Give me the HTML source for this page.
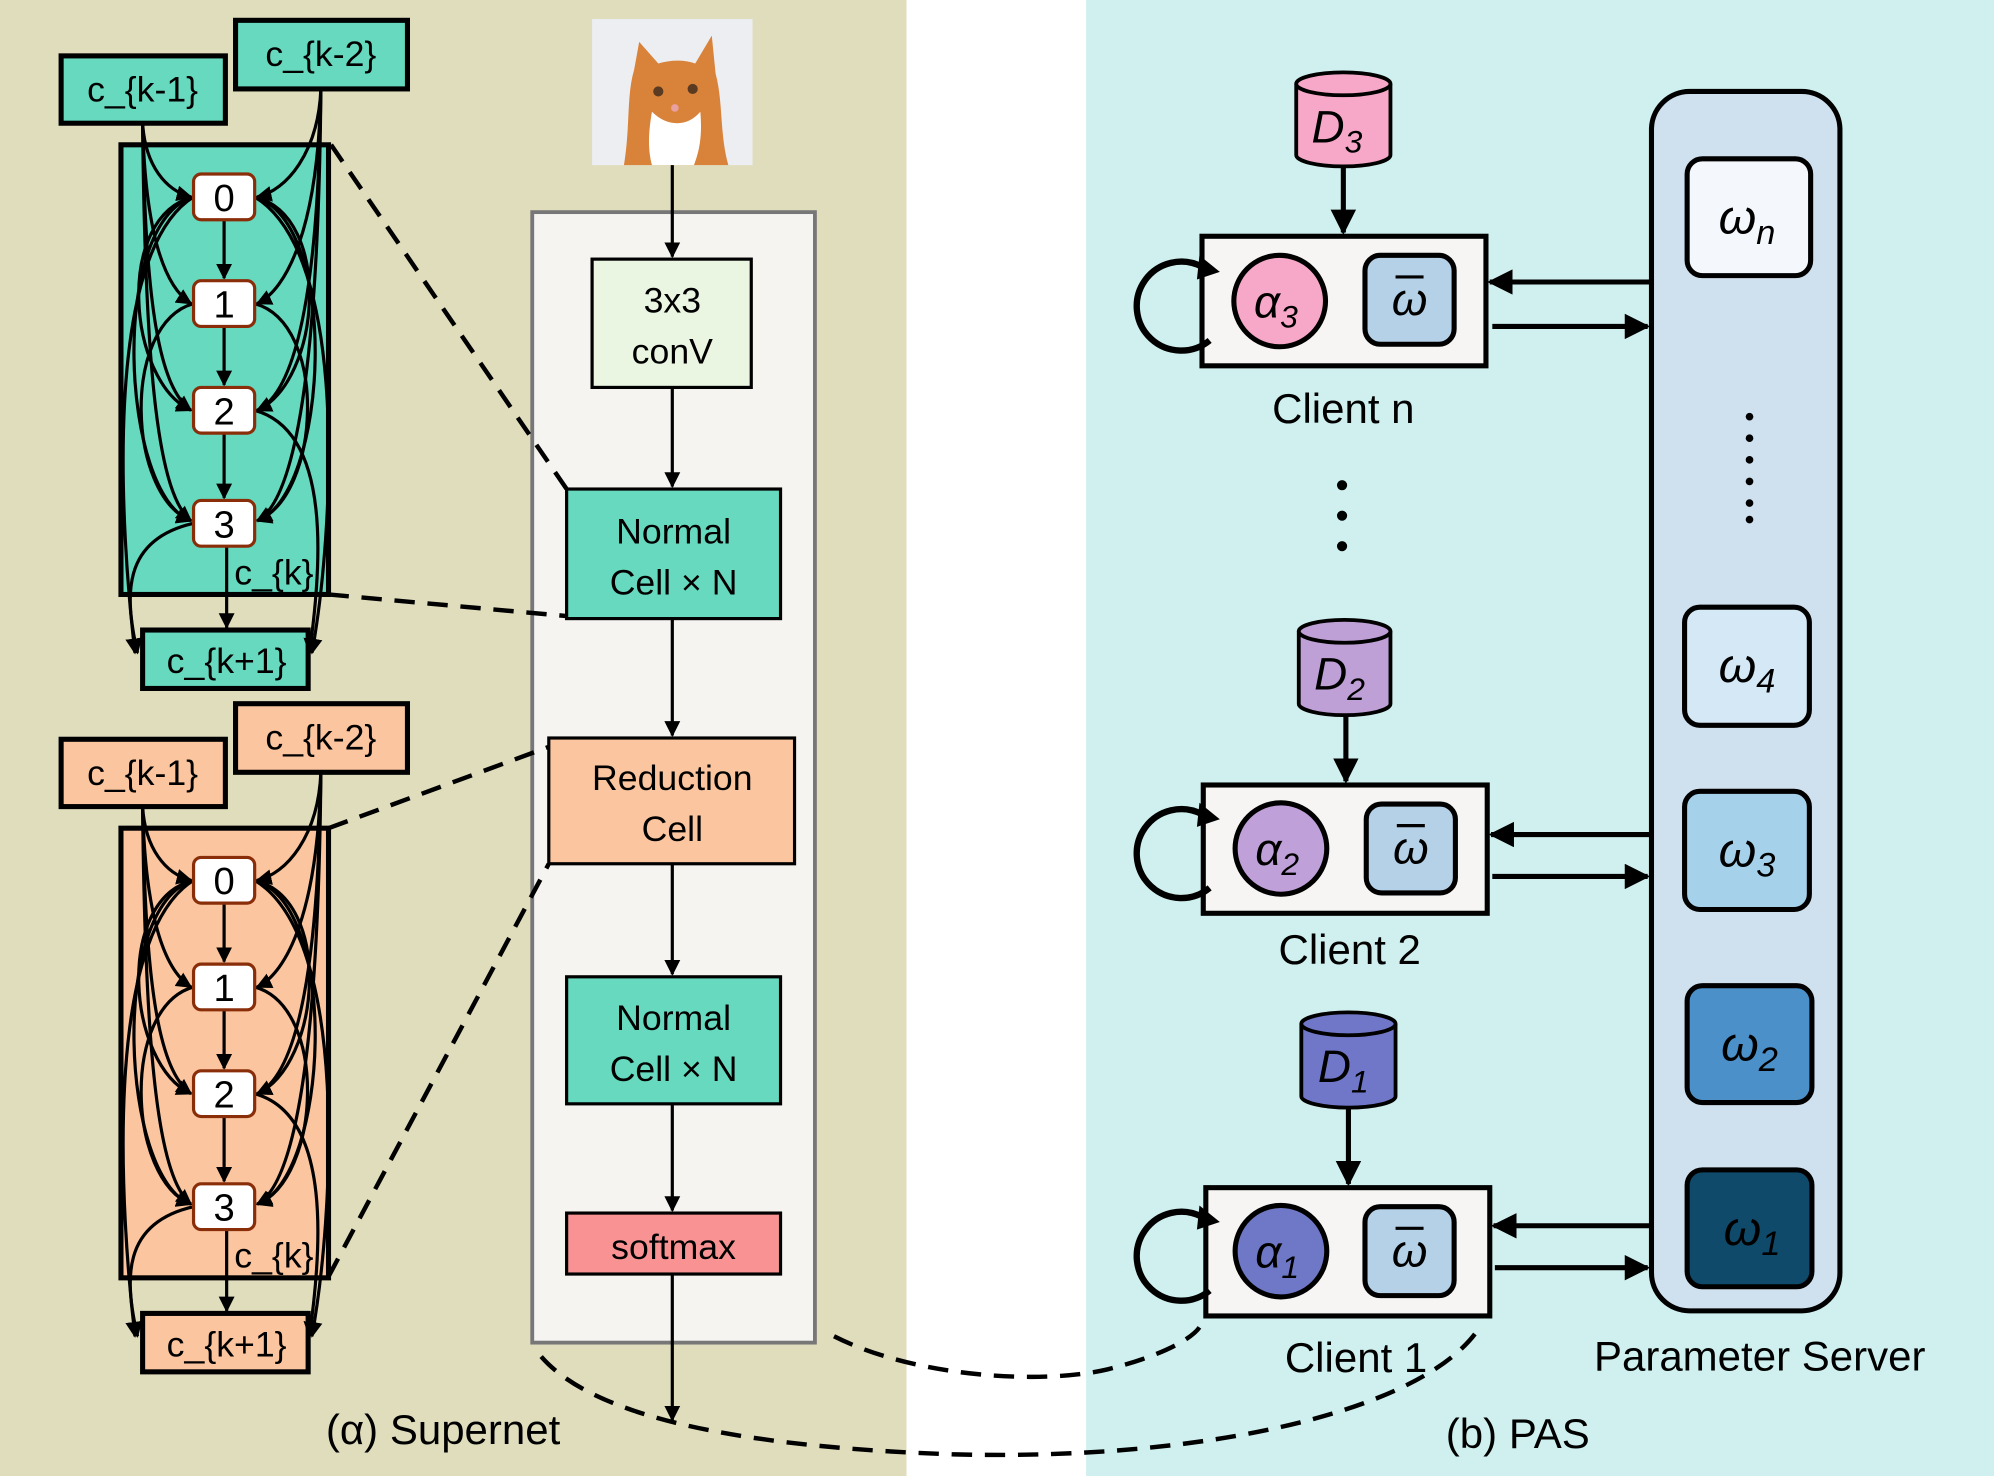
<!DOCTYPE html>
<html><head><meta charset="utf-8"><style>
html,body{margin:0;padding:0;background:#fff}
svg{display:block}
text{font-family:"Liberation Sans","DejaVu Sans",sans-serif}
.m{font-family:"Liberation Serif","DejaVu Serif",serif;font-style:italic}
</style></head><body>
<svg width="1994" height="1476" viewBox="0 0 1566 1162" preserveAspectRatio="none" xmlns="http://www.w3.org/2000/svg">
<defs>
<marker id="a" viewBox="0 0 10 10" refX="9" refY="5" markerWidth="5" markerHeight="5" orient="auto-start-reverse"><path d="M0,0L10,5L0,10z" fill="#000"/></marker>
<g id="edges" fill="none" stroke="#000" stroke-width="2.5" marker-end="url(#a)">
<path d="M112,97 C114,130 130,150 150,155"/>
<path d="M112,97 C114,180 128,225 150,239"/>
<path d="M112,97 C114,240 125,305 150,323"/>
<path d="M112,97 C114,300 125,390 150,410"/>
<path d="M252,70 C250,120 225,150 202,155"/>
<path d="M252,70 C250,180 225,228 202,239"/>
<path d="M252,70 C250,240 230,310 202,323"/>
<path d="M252,70 C250,300 230,395 202,410"/>
<path d="M152,155 C90,170 100,300 150,323"/>
<path d="M152,155 C85,175 95,390 150,410"/>
<path d="M152,239 C95,255 100,390 150,410"/>
<path d="M200,155 C262,170 252,300 202,323"/>
<path d="M200,155 C268,175 258,390 202,410"/>
<path d="M200,239 C258,255 252,390 202,410"/>
<path d="M200,323 C262,340 252,450 243,514"/>
<path d="M200,155 C275,200 262,420 245,514"/>
<path d="M152,412 C95,425 98,470 108,514"/>
<path d="M152,155 C80,200 95,420 106,514"/>
<path d="M176,173 L176,219"/>
<path d="M176,257 L176,303"/>
<path d="M176,341 L176,392"/>
<path d="M178,430 L178,494"/>
</g>
</defs>
<rect x="0" y="0" width="712" height="1162" fill="#e0ddbd"/>
<rect x="712" y="0" width="141" height="1162" fill="#fff"/>
<rect x="853" y="0" width="713" height="1162" fill="#cff0ef"/>

<g>
<rect x="95" y="114" width="163" height="354" fill="#66d9bf" stroke="#000" stroke-width="4"/>
<rect x="48" y="44" width="129" height="53" fill="#66d9bf" stroke="#000" stroke-width="4"/>
<text x="112" y="80" font-size="28" text-anchor="middle">c_{k-1}</text>
<rect x="185" y="16" width="135" height="54" fill="#66d9bf" stroke="#000" stroke-width="4"/>
<text x="252" y="52" font-size="28" text-anchor="middle">c_{k-2}</text>
<rect x="112" y="496" width="130" height="46" fill="#66d9bf" stroke="#000" stroke-width="4"/>
<text x="178" y="530" font-size="28" text-anchor="middle">c_{k+1}</text>
<use href="#edges"/>
<g fill="#fff" stroke="#8a2e0a" stroke-width="2.5">
<rect x="152" y="137" width="48" height="36" rx="6"/><rect x="152" y="221" width="48" height="36" rx="6"/>
<rect x="152" y="305" width="48" height="36" rx="6"/><rect x="152" y="394" width="48" height="36" rx="6"/>
</g>
<g font-size="30" text-anchor="middle"><text x="176" y="166">0</text><text x="176" y="250">1</text><text x="176" y="334">2</text><text x="176" y="423">3</text></g>
<text x="184" y="460" font-size="28">c_{k}</text>
</g>
<g transform="translate(0,538)">
<rect x="95" y="114" width="163" height="354" fill="#fac59f" stroke="#000" stroke-width="4"/>
<rect x="48" y="44" width="129" height="53" fill="#fac59f" stroke="#000" stroke-width="4"/>
<text x="112" y="80" font-size="28" text-anchor="middle">c_{k-1}</text>
<rect x="185" y="16" width="135" height="54" fill="#fac59f" stroke="#000" stroke-width="4"/>
<text x="252" y="52" font-size="28" text-anchor="middle">c_{k-2}</text>
<rect x="112" y="496" width="130" height="46" fill="#fac59f" stroke="#000" stroke-width="4"/>
<text x="178" y="530" font-size="28" text-anchor="middle">c_{k+1}</text>
<use href="#edges"/>
<g fill="#fff" stroke="#8a2e0a" stroke-width="2.5">
<rect x="152" y="137" width="48" height="36" rx="6"/><rect x="152" y="221" width="48" height="36" rx="6"/>
<rect x="152" y="305" width="48" height="36" rx="6"/><rect x="152" y="394" width="48" height="36" rx="6"/>
</g>
<g font-size="30" text-anchor="middle"><text x="176" y="166">0</text><text x="176" y="250">1</text><text x="176" y="334">2</text><text x="176" y="423">3</text></g>
<text x="184" y="460" font-size="28">c_{k}</text>
</g>

<rect x="418" y="167" width="222" height="890" fill="#f5f4f1" stroke="#777" stroke-width="3"/>
<rect x="465" y="15" width="126" height="115" fill="#eceef2"/>
<path d="M490,130 C495,100 492,75 498,55 L502,33 L517,50 C527,47 538,47 546,50 L559,28 L562,58 C568,80 565,105 572,130 Z" fill="#d9823a"/>
<path d="M512,88 C524,100 540,100 550,88 C552,110 548,122 545,130 L512,130 C508,115 510,100 512,88Z" fill="#fff"/>
<circle cx="517" cy="72" r="4" fill="#5a3a20"/><circle cx="544" cy="70" r="4" fill="#5a3a20"/>
<circle cx="530" cy="85" r="3" fill="#e8a0a0"/>
<g stroke="#000" stroke-width="2.5" fill="none" marker-end="url(#a)">
<path d="M528,130 L528,202"/><path d="M528,306 L528,383"/><path d="M528,488 L528,579"/>
<path d="M528,681 L528,767"/><path d="M528,870 L528,953"/><path d="M528,1004 L528,1118"/>
</g>
<rect x="465" y="204" width="125" height="101" fill="#eaf5e2" stroke="#000" stroke-width="2.5"/>
<text x="528" y="246" font-size="28" text-anchor="middle">3x3</text><text x="528" y="286" font-size="28" text-anchor="middle">conV</text>
<rect x="445" y="385" width="168" height="102" fill="#66d9bf" stroke="#000" stroke-width="2.5"/>
<text x="529" y="428" font-size="28" text-anchor="middle">Normal</text><text x="529" y="468" font-size="28" text-anchor="middle">Cell × N</text>
<rect x="431" y="581" width="193" height="99" fill="#fac59f" stroke="#000" stroke-width="2.5"/>
<text x="528" y="622" font-size="28" text-anchor="middle">Reduction</text><text x="528" y="662" font-size="28" text-anchor="middle">Cell</text>
<rect x="445" y="769" width="168" height="100" fill="#66d9bf" stroke="#000" stroke-width="2.5"/>
<text x="529" y="811" font-size="28" text-anchor="middle">Normal</text><text x="529" y="851" font-size="28" text-anchor="middle">Cell × N</text>
<rect x="445" y="955" width="168" height="48" fill="#f99393" stroke="#000" stroke-width="2.5"/>
<text x="529" y="991" font-size="28" text-anchor="middle">softmax</text>

<g stroke="#000" stroke-width="3.5" fill="none" stroke-dasharray="16,10">
<path d="M260,114 L445,385"/><path d="M258,468 L445,485"/>
<path d="M258,652 L431,588"/><path d="M258,1005 L431,680"/>
<path d="M655,1052 C720,1085 820,1090 870,1078 C910,1068 935,1055 942,1045"/>
<path d="M425,1068 C470,1120 600,1140 750,1145 C950,1150 1120,1110 1162,1045"/>
</g>
<text x="348" y="1137" font-size="33" text-anchor="middle">(α) Supernet</text>

<rect x="1297" y="72" width="148" height="960" rx="30" fill="#cfe0ee" stroke="#000" stroke-width="4"/>
<g stroke="#000" stroke-width="4">
<rect x="1325" y="125" width="97" height="92" rx="12" fill="#f4f8fc"/>
<rect x="1323" y="478" width="98" height="93" rx="12" fill="#d4e8f5"/>
<rect x="1323" y="623" width="98" height="93" rx="12" fill="#a5d2ea"/>
<rect x="1325" y="776" width="98" height="92" rx="12" fill="#4b90c8"/>
<rect x="1325" y="921" width="98" height="92" rx="12" fill="#0f4a6a"/>
</g>
<g class="m" font-size="38" text-anchor="middle">
<text x="1372" y="184">ω<tspan font-size="27" dy="8">n</tspan></text>
<text x="1372" y="537">ω<tspan font-size="27" dy="8">4</tspan></text>
<text x="1372" y="682">ω<tspan font-size="27" dy="8">3</tspan></text>
<text x="1374" y="835">ω<tspan font-size="27" dy="8">2</tspan></text>
<text x="1376" y="980">ω<tspan font-size="27" dy="8">1</tspan></text>
</g>
<g fill="#000"><circle cx="1374" cy="328" r="3"/><circle cx="1374" cy="345" r="3"/><circle cx="1374" cy="362" r="3"/><circle cx="1374" cy="379" r="3"/><circle cx="1374" cy="396" r="3"/><circle cx="1374" cy="409" r="3"/></g>
<text x="1382" y="1079" font-size="33" text-anchor="middle">Parameter Server</text>

<g stroke="#000" stroke-width="4" fill="none" marker-end="url(#a)">
<path d="M1297,222 L1170,222"/><path d="M1172,257 L1294,257"/>
<path d="M1297,657 L1171,657"/><path d="M1172,690 L1294,690"/>
<path d="M1297,965 L1173,965"/><path d="M1174,998 L1294,998"/>
<path d="M1055,128 L1055,183"/><path d="M1057,560 L1057,615"/><path d="M1059,870 L1059,932"/>
</g>
<rect x="944" y="186" width="223" height="102" fill="#f6f5f3" stroke="#000" stroke-width="4"/>
<circle cx="1005" cy="237" r="36" fill="#f7a8c8" stroke="#000" stroke-width="4"/>
<rect x="1072" y="201" width="70" height="70" rx="12" fill="#b5d1e8" stroke="#000" stroke-width="4"/>
<rect x="945" y="618" width="223" height="101" fill="#f6f5f3" stroke="#000" stroke-width="4"/>
<circle cx="1006" cy="668" r="36" fill="#c0a0d8" stroke="#000" stroke-width="4"/>
<rect x="1073" y="633" width="70" height="70" rx="12" fill="#b5d1e8" stroke="#000" stroke-width="4"/>
<rect x="947" y="935" width="223" height="101" fill="#f6f5f3" stroke="#000" stroke-width="4"/>
<circle cx="1006" cy="985" r="36" fill="#6f78c6" stroke="#000" stroke-width="4"/>
<rect x="1072" y="950" width="70" height="70" rx="12" fill="#b5d1e8" stroke="#000" stroke-width="4"/>
<g class="m" font-size="36" text-anchor="middle">
<text x="1002" y="250">α<tspan font-size="25" dy="8">3</tspan></text>
<text x="1003" y="681">α<tspan font-size="25" dy="8">2</tspan></text>
<text x="1003" y="998">α<tspan font-size="25" dy="8">1</tspan></text>
<text x="1107" y="248">ω</text><text x="1108" y="680">ω</text><text x="1107" y="997">ω</text>
</g>
<g stroke="#000" stroke-width="2.5"><path d="M1096,218H1118M1097,650H1119M1096,967H1118"/></g>
<g stroke="#000" stroke-width="5" fill="none">
<path d="M950,268 A35,35 0 1 1 944,210"/><path d="M950,699 A35,35 0 1 1 944,641"/><path d="M950,1016 A35,35 0 1 1 944,958"/>
</g>
<g fill="#000">
<path d="M942,201 L958,214 L940,220Z"/><path d="M942,632 L958,645 L940,651Z"/><path d="M942,949 L958,962 L940,968Z"/>
</g>
<g font-size="33" text-anchor="middle">
<text x="1055" y="333">Client n</text><text x="1060" y="759">Client 2</text><text x="1065" y="1080">Client 1</text>
<text x="1192" y="1140">(b) PAS</text>
</g>
<g fill="#000"><circle cx="1054" cy="382" r="4"/><circle cx="1054" cy="406" r="4"/><circle cx="1054" cy="430" r="4"/></g>
<g stroke="#000" stroke-width="3">
<path d="M1018,66 V122 A37,9 0 0 0 1092,122 V66" fill="#f7a8c8"/><ellipse cx="1055" cy="66" rx="37" ry="9" fill="#f7a8c8"/>
<path d="M1020,497 V554 A36,9 0 0 0 1092,554 V497" fill="#bfa0d6"/><ellipse cx="1056" cy="497" rx="36" ry="9" fill="#bfa0d6"/>
<path d="M1022,806 V863 A37,9 0 0 0 1096,863 V806" fill="#7077c8"/><ellipse cx="1059" cy="806" rx="37" ry="9" fill="#7077c8"/>
</g>
<g class="m" font-size="36" text-anchor="middle">
<text x="1050" y="112">D<tspan font-size="25" dy="8">3</tspan></text>
<text x="1052" y="543">D<tspan font-size="25" dy="8">2</tspan></text>
<text x="1055" y="852">D<tspan font-size="25" dy="8">1</tspan></text>
</g>
</svg>
</body></html>
